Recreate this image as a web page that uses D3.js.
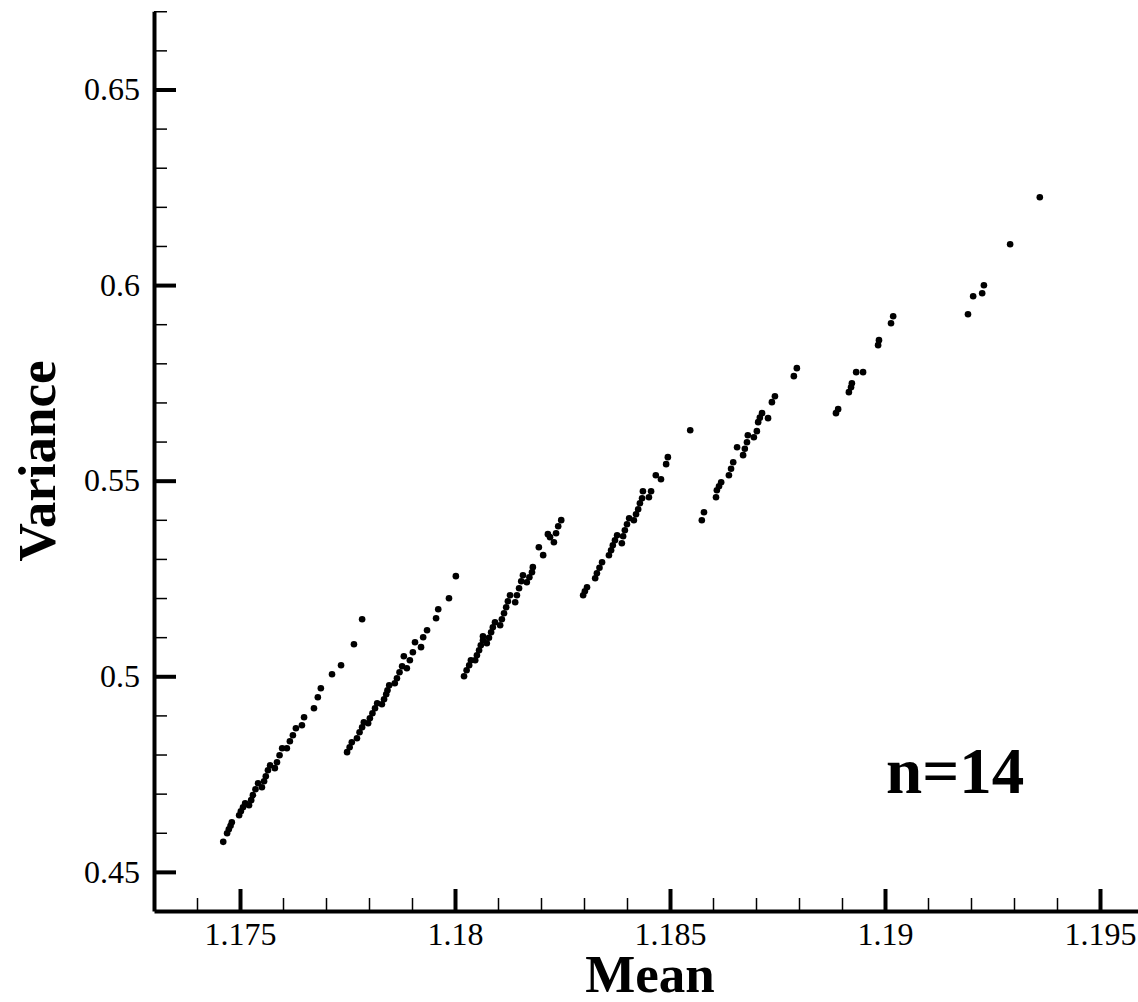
<!DOCTYPE html>
<html lang="en">
<head>
<meta charset="UTF-8">
<title>Mean vs Variance, n=14</title>
<script src="https://d3js.org/d3.v7.min.js"></script>
<style>
    body { margin: 0; background: #fff; }
    svg { display: block; }
    .tick text { font-family: 'Liberation Serif', 'Times New Roman', serif; font-size: 32px; fill: #000; }
    .axis-title { font-family: 'Liberation Serif', 'Times New Roman', serif; font-weight: bold; font-size: 53px; }
    .note { font-family: 'Liberation Serif', 'Times New Roman', serif; font-weight: bold; font-size: 65px; }
    .dot { fill: #000; }
</style>
</head>
<body>
<script>
// values: [mean, variance]
var band1 = [
    [1.17461, 0.45767], [1.17470, 0.45989], [1.17474, 0.46091], [1.17478, 0.46181], [1.17481, 0.46270],
    [1.17498, 0.46449], [1.17502, 0.46551], [1.17507, 0.46654], [1.17512, 0.46756],
    [1.17521, 0.46705], [1.17526, 0.46833], [1.17530, 0.46961], [1.17536, 0.47114], [1.17542, 0.47267],
    [1.17551, 0.47165], [1.17556, 0.47318], [1.17560, 0.47446], [1.17565, 0.47599], [1.17570, 0.47727],
    [1.17581, 0.47651], [1.17586, 0.47804], [1.17592, 0.47983], [1.17598, 0.48162],
    [1.17609, 0.48162], [1.17616, 0.48341], [1.17623, 0.48494], [1.17630, 0.48673],
    [1.17644, 0.48750], [1.17649, 0.48954], [1.17672, 0.49184], [1.17681, 0.49465], [1.17688, 0.49695],
    [1.17714, 0.50053], [1.17735, 0.50283], [1.17765, 0.50820], [1.17784, 0.51459]
];
var band2 = [
    [1.17749, 0.48060], [1.17755, 0.48187], [1.17760, 0.48315],
    [1.17772, 0.48417], [1.17778, 0.48571], [1.17784, 0.48698], [1.17788, 0.48826],
    [1.17798, 0.48801], [1.17802, 0.48929], [1.17808, 0.49056], [1.17814, 0.49184], [1.17819, 0.49312],
    [1.17830, 0.49286], [1.17835, 0.49414], [1.17840, 0.49542], [1.17843, 0.49644], [1.17847, 0.49772],
    [1.17860, 0.49823], [1.17865, 0.49951], [1.17871, 0.50104], [1.17877, 0.50258],
    [1.17881, 0.50513], [1.17888, 0.50207], [1.17895, 0.50411], [1.17902, 0.50616],
    [1.17907, 0.50871], [1.17921, 0.50744], [1.17926, 0.50999], [1.17935, 0.51178],
    [1.17956, 0.51485], [1.17961, 0.51715], [1.17986, 0.51996], [1.18002, 0.52559]
];
var band3 = [
    [1.18021, 0.50002], [1.18027, 0.50156], [1.18033, 0.50283], [1.18037, 0.50411],
    [1.18047, 0.50411], [1.18051, 0.50539], [1.18056, 0.50667], [1.18060, 0.50794], [1.18065, 0.50922],
    [1.18065, 0.51025],
    [1.18074, 0.50845], [1.18079, 0.50986], [1.18084, 0.51127], [1.18088, 0.51255], [1.18093, 0.51382],
    [1.18105, 0.51306], [1.18109, 0.51459], [1.18114, 0.51612], [1.18119, 0.51766], [1.18123, 0.51919], [1.18128, 0.52072],
    [1.18140, 0.51894], [1.18144, 0.52072], [1.18149, 0.52251], [1.18154, 0.52430], [1.18158, 0.52584],
    [1.18167, 0.52405], [1.18173, 0.52533], [1.18179, 0.52661], [1.18181, 0.52789],
    [1.18195, 0.53300], [1.18205, 0.53096], [1.18216, 0.53633], [1.18221, 0.53556], [1.18230, 0.53428],
    [1.18235, 0.53658], [1.18240, 0.53837], [1.18247, 0.53991]
];
var band4 = [
    [1.18298, 0.52072], [1.18302, 0.52175], [1.18307, 0.52277],
    [1.18326, 0.52507], [1.18330, 0.52635], [1.18336, 0.52775], [1.18342, 0.52916],
    [1.18358, 0.53095], [1.18363, 0.53223], [1.18367, 0.53351], [1.18372, 0.53478], [1.18377, 0.53606],
    [1.18388, 0.53402], [1.18391, 0.53581], [1.18395, 0.53734], [1.18400, 0.53888], [1.18405, 0.54041],
    [1.18416, 0.53990], [1.18421, 0.54143], [1.18426, 0.54271], [1.18430, 0.54424], [1.18435, 0.54552],
    [1.18437, 0.54731], [1.18451, 0.54577], [1.18456, 0.54731], [1.18467, 0.55140], [1.18479, 0.55038],
    [1.18491, 0.55422], [1.18495, 0.55601], [1.18547, 0.56291]
];
var band5 = [
    [1.18574, 0.53990], [1.18579, 0.54194], [1.18607, 0.54578],
    [1.18609, 0.54756], [1.18614, 0.54859], [1.18619, 0.54961],
    [1.18637, 0.55140], [1.18642, 0.55306], [1.18647, 0.55472], [1.18656, 0.55856],
    [1.18670, 0.55652], [1.18674, 0.55818], [1.18679, 0.55984],
    [1.18681, 0.56163], [1.18695, 0.56112], [1.18702, 0.56266],
    [1.18705, 0.56496], [1.18709, 0.56611], [1.18714, 0.56726],
    [1.18728, 0.56598], [1.18737, 0.57007], [1.18744, 0.57160], [1.18788, 0.57672], [1.18795, 0.57876]
];
var band6 = [
    [1.18886, 0.56726], [1.18891, 0.56828], [1.18916, 0.57263], [1.18921, 0.57390], [1.18923, 0.57492],
    [1.18933, 0.57774], [1.18949, 0.57774], [1.18984, 0.58464], [1.18986, 0.58592],
    [1.19014, 0.59026], [1.19019, 0.59205]
];
var band7 = [
    [1.19193, 0.59256], [1.19205, 0.59716], [1.19226, 0.59793], [1.19230, 0.59997],
    [1.19291, 0.61045], [1.19360, 0.62247]
];

var xTicks = [1.175, 1.18, 1.185, 1.19, 1.195];
var yTicks = [0.45, 0.5, 0.55, 0.6, 0.65];
var xLabel = "Mean";
var yLabel = "Variance";
var note = "n=14";

var W = 1138, H = 1002;
var left = 154, bottom = 911;

var svg = d3.select("body").append("svg")
    .attr("width", W)
    .attr("height", H);

var x = d3.scaleLinear().domain([1.173, 1.196]).range([left, left + 0.023 * 43000]);
var y = d3.scaleLinear().domain([0.44, 0.67]).range([bottom, bottom - 0.23 * 3912]);

var fmt = function(d) { return String(+d.toFixed(3)); };

// minor ticks first
var xMinor = d3.range(1.174, 1.1961, 0.001).filter(function(v) {
    return !xTicks.some(function(t) { return Math.abs(t - v) < 1e-6; });
});
var yMinor = d3.range(0.45, 0.6701, 0.01).filter(function(v) {
    return !yTicks.some(function(t) { return Math.abs(t - v) < 1e-6; });
});

svg.append("g")
    .attr("transform", "translate(0," + bottom + ")")
    .call(d3.axisBottom(x).tickValues(xMinor).tickSize(-13).tickSizeOuter(0).tickFormat(""))
    .call(function(g) {
        g.select(".domain").remove();
        g.selectAll(".tick line").attr("stroke", "#000").attr("stroke-width", 1.5);
    });

svg.append("g")
    .attr("transform", "translate(" + left + ",0)")
    .call(d3.axisLeft(y).tickValues(yMinor).tickSize(-13).tickSizeOuter(0).tickFormat(""))
    .call(function(g) {
        g.select(".domain").remove();
        g.selectAll(".tick line").attr("stroke", "#000").attr("stroke-width", 1.5);
    });

// major ticks + labels
svg.append("g")
    .attr("transform", "translate(0," + bottom + ")")
    .call(d3.axisBottom(x).tickValues(xTicks).tickSize(-22).tickSizeOuter(0).tickPadding(11).tickFormat(fmt))
    .call(function(g) {
        g.select(".domain").attr("stroke", "#000").attr("stroke-width", 4);
        g.selectAll(".tick line").attr("stroke", "#000").attr("stroke-width", 4);
    });

svg.append("g")
    .attr("transform", "translate(" + left + ",0)")
    .call(d3.axisLeft(y).tickValues(yTicks).tickSize(-22).tickSizeOuter(0).tickPadding(14).tickFormat(fmt))
    .call(function(g) {
        g.select(".domain").attr("stroke", "#000").attr("stroke-width", 4);
        g.selectAll(".tick line").attr("stroke", "#000").attr("stroke-width", 4);
    });

// points
var bands = [band1, band2, band3, band4, band5, band6, band7];
svg.append("g").selectAll("g")
    .data(bands)
    .enter().append("g")
    .selectAll("circle")
    .data(function(d) { return d; })
    .enter().append("circle")
    .attr("class", "dot")
    .attr("cx", function(d) { return x(d[0]); })
    .attr("cy", function(d) { return y(d[1]); })
    .attr("r", 3.3);

// titles
svg.append("text")
    .attr("class", "axis-title")
    .attr("x", 650)
    .attr("y", 992)
    .attr("text-anchor", "middle")
    .text(xLabel);

svg.append("text")
    .attr("class", "axis-title")
    .attr("transform", "translate(55,461) rotate(-90)")
    .attr("text-anchor", "middle")
    .text(yLabel);

svg.append("text")
    .attr("class", "note")
    .attr("x", 886)
    .attr("y", 793)
    .text(note);
</script>
</body>
</html>
